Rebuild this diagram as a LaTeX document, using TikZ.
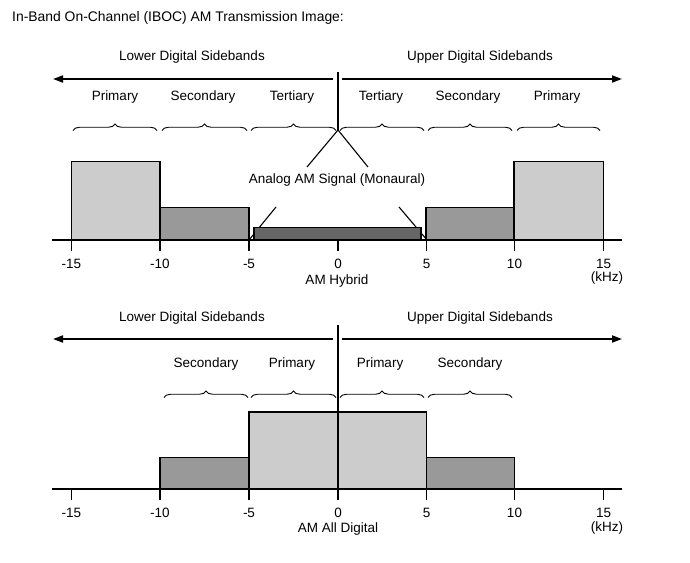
\documentclass[tikz,border=0pt]{standalone}
\usepackage{fontspec}
\setmainfont{Liberation Sans}
\usetikzlibrary{decorations.pathreplacing,arrows.meta}
\definecolor{lightband}{HTML}{CCCCCC}
\definecolor{midband}{HTML}{999999}
\definecolor{darkband}{HTML}{666666}
\tikzset{
  lab/.style={font=\fontsize{13.5}{16}\selectfont, inner sep=0pt, yshift=-1.5pt},
  ttl/.style={font=\fontsize{13.9}{17}\selectfont, inner sep=0pt, anchor=west, yshift=-1pt},
  bigarrow/.style={line width=1.8pt, -{Triangle[length=10pt,width=7pt]}},
  plain/.style={line width=1.1pt},
  axisline/.style={line width=1.3pt},
  tick/.style={line width=1.1pt},
  bandbrace/.style={line width=0.9pt, decorate, decoration={brace, amplitude=6.5pt, aspect=0.5}},
  lightbox/.style={fill=lightband, draw=black, line width=1.1pt},
  midbox/.style={fill=midband, draw=black, line width=1.1pt},
  darkbox/.style={fill=darkband, draw=black, line width=1.1pt},
}
\begin{document}
\begin{tikzpicture}[x=1pt,y=-1pt]
\useasboundingbox (0,0) rectangle (690,562);

\node[ttl] (title) at (12,17) {In-Band On-Channel (IBOC) AM Transmission Image:};

% ================= TOP: AM Hybrid =================
\node[lab] (lowA) at (192,56) {Lower Digital Sidebands};
\node[lab] (upA) at (480,56) {Upper Digital Sidebands};
\coordinate (aL0) at (333,79); \coordinate (aL1) at (53,79);
\coordinate (aR0) at (342,79); \coordinate (aR1) at (622,79);
\draw[bigarrow] (aL0) -- (aL1);
\draw[bigarrow] (aR0) -- (aR1);
\coordinate (cTop) at (338,72); \coordinate (cApex) at (338,130);
\draw[plain] (cTop) -- (cApex);

\node[lab] (pA1) at (115,96) {Primary};
\node[lab] (sA1) at (203,96) {Secondary};
\node[lab] (tA1) at (292,96) {Tertiary};
\node[lab] (tA2) at (381,96) {Tertiary};
\node[lab] (sA2) at (468,96) {Secondary};
\node[lab] (pA2) at (557,96) {Primary};

\foreach \a/\b in {73/157,162/247,251/336,340/424,428/512,517/600}
  \draw[bandbrace] (\a,130.5) -- (\b,130.5);

% analog label and pointers
\node[lab] (analog) at (337,179) {Analog AM Signal (Monaural)};
\coordinate (vL) at (307,167); \coordinate (vR) at (368,167);
\draw[plain] (cApex) -- (vL);
\draw[plain] (cApex) -- (vR);
\coordinate (pL0) at (276,207); \coordinate (pL1) at (249,240);
\coordinate (pR0) at (399,207); \coordinate (pR1) at (427,240);
\draw[plain] (pL0) -- (pL1);
\draw[plain] (pR0) -- (pR1);

% bands
\draw[lightbox] (71.5,161.5) rectangle (160,240);
\draw[midbox] (160,207.5) rectangle (249,240);
\draw[darkbox] (254,227.5) rectangle (421,240);
\draw[midbox] (426,207.5) rectangle (514,240);
\draw[lightbox] (514,161.5) rectangle (603.5,240);

% axis
\coordinate (axA0) at (52,240); \coordinate (axA1) at (622,240);
\draw[axisline] (axA0) -- (axA1);
\foreach \x/\t in {71.5/-15,160/-10,249/-5,338/0,426.5/5,514.5/10,603.5/15}{
  \draw[tick] (\x,240) -- (\x,250.5);
  \node[lab] at (\x,262) {\t};
}
\node[lab] (khzA) at (607,277) {(kHz)};
\node[lab] (hyb) at (337,280) {AM Hybrid};

% ================= BOTTOM: AM All Digital =================
\node[lab] (lowB) at (192,317) {Lower Digital Sidebands};
\node[lab] (upB) at (480,317) {Upper Digital Sidebands};
\coordinate (bL0) at (333,339); \coordinate (bL1) at (53,339);
\coordinate (bR0) at (342,339); \coordinate (bR1) at (622,339);
\draw[bigarrow] (bL0) -- (bL1);
\draw[bigarrow] (bR0) -- (bR1);

\node[lab] (sB1) at (206,363) {Secondary};
\node[lab] (pB1) at (292,363) {Primary};
\node[lab] (pB2) at (380,363) {Primary};
\node[lab] (sB2) at (470,363) {Secondary};

\foreach \a/\b in {164/248,251/336,340/424,428/512}
  \draw[bandbrace] (\a,397.5) -- (\b,397.5);

\draw[midbox] (160,457.5) rectangle (249,489);
\draw[lightbox] (249,412) rectangle (426.5,489);
\draw[midbox] (426.5,457.5) rectangle (514.5,489);

\coordinate (cbTop) at (338,325); \coordinate (cbBot) at (338,489);
\draw[plain] (cbTop) -- (cbBot);

\coordinate (axB0) at (52,489); \coordinate (axB1) at (622,489);
\draw[axisline] (axB0) -- (axB1);
\foreach \x/\t in {71.5/-15,160/-10,249/-5,338/0,426.5/5,514.5/10,603.5/15}{
  \draw[tick] (\x,489) -- (\x,499.5);
  \node[lab] at (\x,511) {\t};
}
\node[lab] (khzB) at (607,526) {(kHz)};
\node[lab] (dig) at (338,528) {AM All Digital};
\end{tikzpicture}
\end{document}
